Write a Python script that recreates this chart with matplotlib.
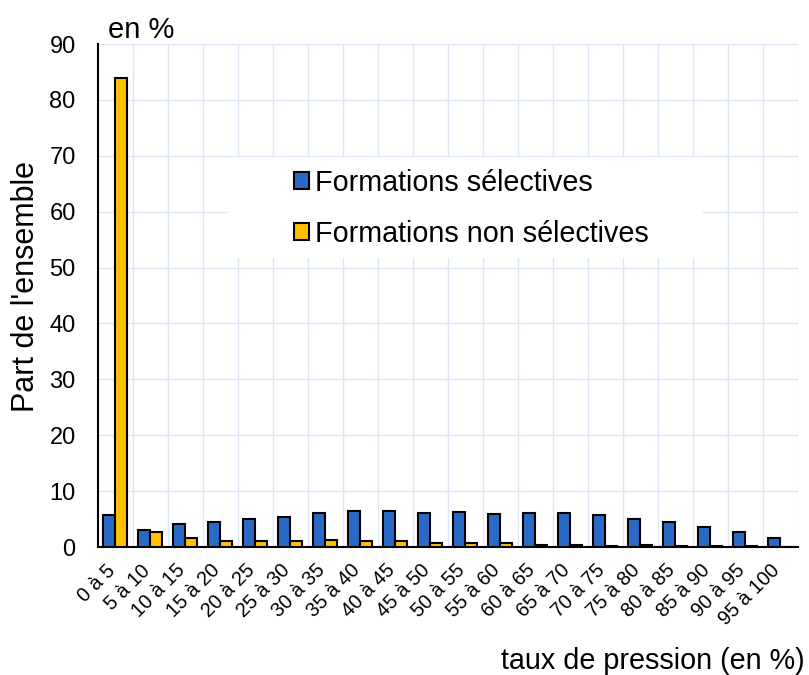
import numpy as np
import matplotlib
matplotlib.use("Agg")
import matplotlib.pyplot as plt
from matplotlib.patches import Rectangle
from matplotlib.transforms import ScaledTranslation

plt.rcParams['font.family'] = ['Liberation Sans', 'DejaVu Sans']

categories = ["0 à 5", "5 à 10", "10 à 15", "15 à 20", "20 à 25", "25 à 30",
              "30 à 35", "35 à 40", "40 à 45", "45 à 50", "50 à 55", "55 à 60",
              "60 à 65", "65 à 70", "70 à 75", "75 à 80", "80 à 85", "85 à 90",
              "90 à 95", "95 à 100"]
selectives = [5.7, 3.0, 4.1, 4.4, 5.1, 5.4, 6.0, 6.5, 6.5, 6.0,
              6.2, 5.9, 6.0, 6.0, 5.7, 5.1, 4.5, 3.5, 2.6, 1.6]
non_selectives = [84.0, 2.7, 1.7, 1.1, 1.1, 1.1, 1.2, 1.1, 1.1, 0.8,
                  0.7, 0.7, 0.3, 0.4, 0.2, 0.4, 0.2, 0.2, 0.1, 0.0]

x = np.arange(len(categories))
w = 0.34

fig = plt.figure(figsize=(8.09, 6.75), dpi=100)
ax = fig.add_axes([0.121, 0.1896, 0.865, 0.7452])

ax.bar(x - w / 2, selectives, w, color="#2A6AC7", edgecolor="black",
       linewidth=1.5, label="Formations sélectives", zorder=3)
ax.bar(x + w / 2, non_selectives, w, color="#FFC000", edgecolor="black",
       linewidth=1.5, label="Formations non sélectives", zorder=3)

ax.set_xlim(-0.5, len(categories) - 0.5)
ax.set_ylim(0, 90)
ax.set_yticks(range(0, 91, 10))
ax.set_xticks(x)
ax.set_xticklabels(categories, rotation=45, ha="right", rotation_mode="anchor",
                   fontsize=14.3)
ax.tick_params(axis="y", labelsize=17, length=0, pad=16)
ax.tick_params(axis="x", length=0, pad=10)
shift = ScaledTranslation(-0.10, 0, fig.dpi_scale_trans)
for lab in ax.get_xticklabels():
    lab.set_transform(lab.get_transform() + shift)

# grid: horizontal at each 10, vertical at category boundaries
for yv in range(10, 91, 10):
    ax.axhline(yv, color="#dce8f5", linewidth=1, zorder=0)
for xv in np.arange(0.5, len(categories), 1):
    ax.axvline(xv, color="#dce8f5", linewidth=1, zorder=0)

for s in ["top", "right"]:
    ax.spines[s].set_visible(False)
ax.spines["left"].set_linewidth(1.5)
ax.spines["bottom"].set_linewidth(1.5)

# white area behind legend
ax.add_patch(Rectangle((0.186, 0.575), 0.679, 0.2, transform=ax.transAxes,
                       facecolor="white", edgecolor="none", zorder=1))
ax.legend(loc="center left", bbox_to_anchor=(0.259, 0.673), frameon=False,
          fontsize=20.7, handlelength=0.55, handleheight=0.55,
          handletextpad=0.2, labelspacing=0.8, borderpad=0)

ax.set_ylabel("Part de l'ensemble", fontsize=22)
ax.yaxis.set_label_coords(-0.081, 0.517)
fig.text(0.134, 0.955, "en %", fontsize=21, ha="left", va="center")
fig.text(0.995, 0.009, "taux de pression (en %)", fontsize=20.7, ha="right",
         va="baseline")

fig.savefig("out.png", dpi=100)
